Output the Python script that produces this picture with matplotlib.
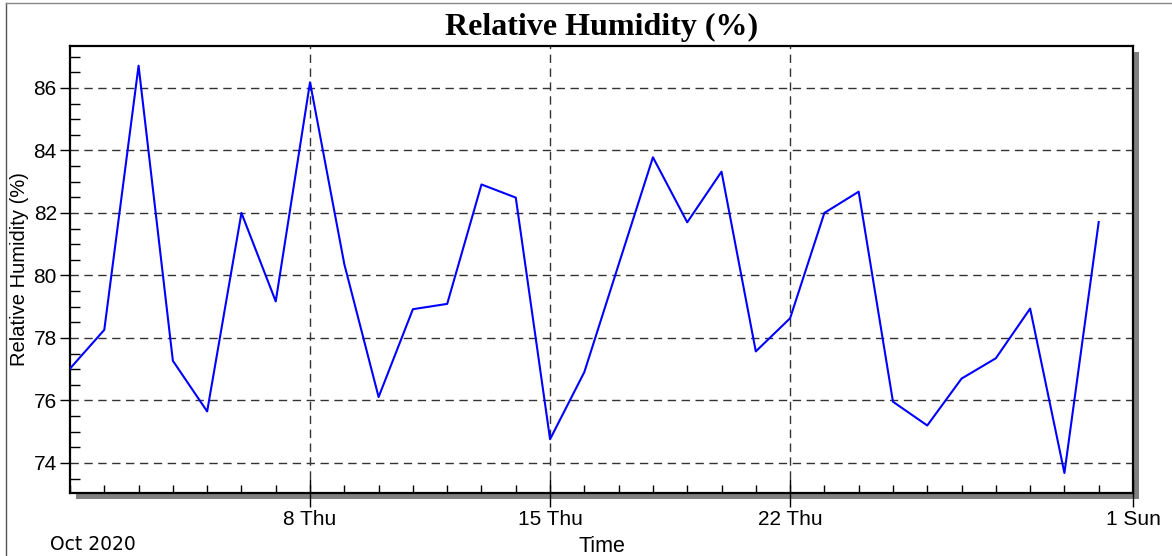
import datetime as dt

import matplotlib
matplotlib.use("Agg")
import matplotlib.pyplot as plt
import matplotlib.dates as mdates
from matplotlib.lines import Line2D
from matplotlib.patches import Rectangle
from matplotlib.ticker import MultipleLocator, FixedLocator, FuncFormatter

# daily relative humidity, Oct 2020
days = [dt.datetime(2020, 10, d) for d in range(1, 32)]
humidity = [77.02, 78.26, 86.71, 77.27, 75.65, 82.0, 79.17, 86.18, 80.36, 76.11,
            78.92, 79.09, 82.91, 82.49, 74.76, 76.91, 80.35, 83.78, 81.70, 83.32,
            77.57, 78.63, 82.0, 82.68, 75.96, 75.20, 76.70, 77.35, 78.94, 73.68,
            81.71]
major_days = [dt.datetime(2020, 10, 8), dt.datetime(2020, 10, 15),
              dt.datetime(2020, 10, 22), dt.datetime(2020, 11, 1)]
x_start = dt.datetime(2020, 10, 1)
x_end = dt.datetime(2020, 11, 1)

W, H = 1172, 556
fig = plt.figure(figsize=(W / 100, H / 100), dpi=100)
fig.patch.set_facecolor('white')

# plot area in pixels
left, right, top, bottom = 70, 1133, 46, 493
ax = fig.add_axes([left / W, 1 - bottom / H, (right - left) / W, (bottom - top) / H])

# drop shadow behind the plot area
shadow = Rectangle(((left + 6) / W, 1 - (bottom + 6) / H), (right - left) / W, (bottom - top) / H,
                   transform=fig.transFigure, facecolor='#808080', edgecolor='none', zorder=-1)
fig.patches.append(shadow)

# outer frame (left and top edges visible)
fig.add_artist(Line2D([6 / W, 6 / W], [0, 1 - 3 / H], transform=fig.transFigure, color='#555555', lw=1))
fig.add_artist(Line2D([6 / W, 1], [1 - 3 / H, 1 - 3 / H], transform=fig.transFigure, color='#888888', lw=1))

ax.set_facecolor('white')
ax.plot(days, humidity, color='#0000ff', lw=1.5, zorder=3)

ax.set_xlim(x_start, x_end)
ax.set_ylim(73.04, 87.34)

ax.xaxis.set_major_locator(FixedLocator(mdates.date2num(major_days)))
ax.xaxis.set_major_formatter(FuncFormatter(lambda v, p: f"{mdates.num2date(v).day} {mdates.num2date(v).strftime('%a')}"))
ax.xaxis.set_minor_locator(mdates.DayLocator())
ax.yaxis.set_major_locator(MultipleLocator(2))
ax.yaxis.set_minor_locator(MultipleLocator(0.5))

ax.tick_params(axis='x', which='major', direction='inout', length=20, width=1, labelsize=15, pad=2)
ax.tick_params(axis='x', which='minor', direction='in', length=6, width=1)
ax.tick_params(axis='y', which='major', direction='out', length=7.5, width=1, labelsize=15, pad=2)
ax.tick_params(axis='y', which='minor', direction='in', length=7.5, width=1)
ax.tick_params(top=False, right=False, which='both')

for sp in ax.spines.values():
    sp.set_linewidth(1.6)
    sp.set_color('black')

ax.grid(True, which='major', color='#333333', lw=1, linestyle=(0, (6, 4)))
ax.set_axisbelow(True)

ax.set_title('Relative Humidity (%)', fontsize=23, fontweight='bold', family='Liberation Serif', pad=8)
ax.set_ylabel('Relative Humidity (%)', fontsize=14.5, labelpad=3)
ax.set_xlabel('Time', fontsize=15.5, labelpad=5)
fig.text(50 / W, 1 - 545 / H, 'Oct 2020', fontsize=13.5, ha='left', va='center')

for t in ax.get_xticklabels() + ax.get_yticklabels():
    t.set_family('Liberation Sans')
for t in [ax.xaxis.label, ax.yaxis.label]:
    t.set_family('Liberation Sans')

fig.savefig('out.png', dpi=100)
